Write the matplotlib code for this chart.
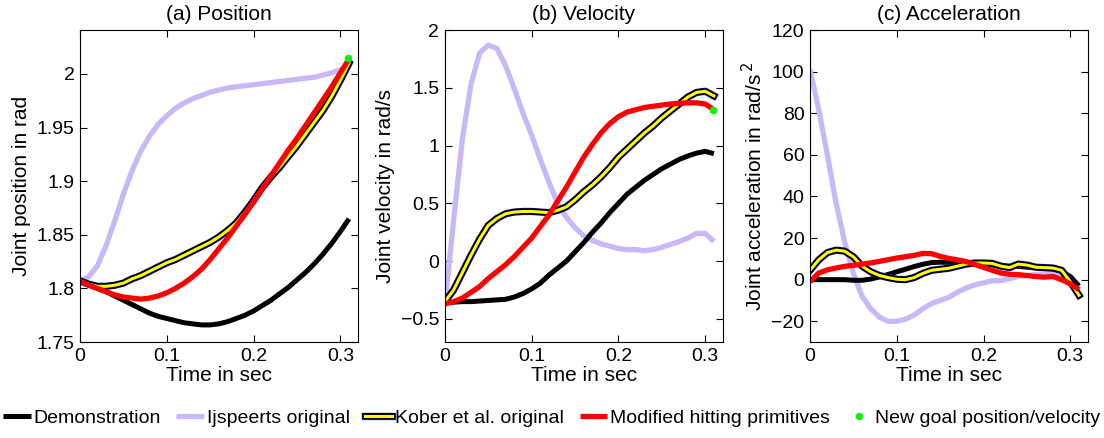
import matplotlib
matplotlib.use("Agg")
import matplotlib.pyplot as plt
import matplotlib.patheffects as pe
from matplotlib.ticker import FuncFormatter

plt.rcParams['font.family'] = ['Liberation Sans', 'DejaVu Sans']

# time samples (s)
t = [0.00, 0.01, 0.02, 0.03, 0.04, 0.05, 0.06, 0.07, 0.08, 0.09,
     0.10, 0.11, 0.12, 0.13, 0.14, 0.15, 0.16, 0.17, 0.18, 0.19,
     0.20, 0.21, 0.22, 0.23, 0.24, 0.25, 0.26, 0.27, 0.28, 0.29,
     0.30, 0.31]

# (a) joint position in rad
pos_demo = [1.808, 1.804, 1.800, 1.797, 1.793, 1.789, 1.785, 1.781, 1.777, 1.774,
            1.772, 1.770, 1.768, 1.767, 1.766, 1.766, 1.767, 1.769, 1.772, 1.775,
            1.779, 1.784, 1.789, 1.795, 1.801, 1.808, 1.815, 1.823, 1.832, 1.842,
            1.853, 1.865]
pos_ijs = [1.807, 1.811, 1.821, 1.840, 1.863, 1.888, 1.910, 1.928, 1.942, 1.953,
           1.961, 1.968, 1.973, 1.977, 1.980, 1.983, 1.985, 1.987, 1.988, 1.989,
           1.990, 1.991, 1.992, 1.993, 1.994, 1.995, 1.996, 1.997, 1.999, 2.001,
           2.004, 2.006]
pos_kober = [1.807, 1.804, 1.802, 1.802, 1.803, 1.805, 1.809, 1.812, 1.816, 1.820,
             1.824, 1.827, 1.831, 1.835, 1.839, 1.843, 1.848, 1.854, 1.861, 1.871,
             1.882, 1.894, 1.904, 1.913, 1.923, 1.933, 1.944, 1.955, 1.966, 1.979,
             1.994, 2.010]
pos_mod = [1.807, 1.803, 1.800, 1.797, 1.794, 1.792, 1.791, 1.790, 1.791, 1.793,
           1.796, 1.800, 1.805, 1.811, 1.818, 1.827, 1.837, 1.847, 1.858, 1.869,
           1.881, 1.893, 1.905, 1.917, 1.929, 1.940, 1.952, 1.964, 1.976, 1.988,
           2.001, 2.014]

# (b) joint velocity in rad/s
vel_demo = [-0.36, -0.355, -0.35, -0.35, -0.345, -0.34, -0.335, -0.33, -0.31, -0.28,
            -0.24, -0.19, -0.12, -0.06, 0.0, 0.08, 0.16, 0.25, 0.33, 0.42,
            0.50, 0.58, 0.64, 0.70, 0.75, 0.80, 0.84, 0.88, 0.91, 0.935,
            0.95, 0.93]
vel_ijs = [-0.37, 0.35, 1.05, 1.53, 1.80, 1.87, 1.84, 1.69, 1.49, 1.28,
           1.09, 0.88, 0.68, 0.50, 0.38, 0.29, 0.22, 0.18, 0.15, 0.13,
           0.11, 0.10, 0.10, 0.09, 0.10, 0.12, 0.145, 0.17, 0.20, 0.24,
           0.24, 0.17]
vel_kober = [-0.35, -0.25, -0.10, 0.05, 0.19, 0.31, 0.37, 0.41, 0.425, 0.43,
             0.43, 0.425, 0.42, 0.44, 0.47, 0.53, 0.60, 0.66, 0.73, 0.81,
             0.90, 0.97, 1.04, 1.11, 1.17, 1.24, 1.30, 1.36, 1.42, 1.46,
             1.47, 1.43]
vel_mod = [-0.37, -0.35, -0.32, -0.27, -0.22, -0.15, -0.09, -0.03, 0.04, 0.12,
           0.20, 0.30, 0.40, 0.52, 0.64, 0.77, 0.90, 1.01, 1.11, 1.19,
           1.25, 1.29, 1.31, 1.33, 1.34, 1.35, 1.36, 1.365, 1.37, 1.37,
           1.36, 1.31]

# (c) joint acceleration in rad/s^2
acc_demo = [0, 0, 0, 0, 0, -0.3, -0.3, 0.3, 1.3, 2.5,
            3.8, 5.0, 6.3, 7.4, 8.2, 8.4, 8.3, 8.2, 8.1, 7.8,
            7.5, 7.1, 6.7, 6.5, 6.4, 6.0, 5.7, 5.4, 5.2, 4.0,
            1.5, -3.0]
acc_ijs = [101, 82, 60, 37, 18, 3, -8, -14, -18, -20,
           -20, -19, -17, -14, -11.5, -10, -8.5, -6, -4, -2.5,
           -1.5, -0.5, -0.5, 0.5, 1.5, 2, 2.4, 2.8, 3, 2,
           -1, -7.5]
acc_kober = [4.5, 9.5, 13, 14.2, 13.7, 11, 6.5, 3.8, 2, 1,
             0.2, 0, 1, 3, 4.5, 5, 5.5, 6.5, 7.5, 8,
             8, 7.8, 6.5, 5.8, 7.5, 7, 6, 5.8, 5.6, 4.5,
             -1, -7.5]
acc_mod = [-1, 3.2, 4.7, 5.6, 6.4, 6.9, 7.5, 8, 8.8, 9.6,
           10.4, 11, 11.7, 12.6, 12.5, 11.2, 10.2, 9.5, 8.7, 7.3,
           5.9, 4.5, 3.2, 2.6, 2.4, 2, 1.5, 1.2, 1.5, 0,
           -2, -4.8]

# new goal (time, value)
goal_t = 0.309
goal_pos = 2.015
goal_vel = 1.31

titles = ['(a) Position', '(b) Velocity', '(c) Acceleration']
ylabels = ['Joint position in rad', 'Joint velocity in rad/s',
           'Joint acceleration in rad/s$^{\\,2}$']
ylims = [(1.75, 2.041), (-0.7, 2.0), (-30, 120)]
yticks = [[1.75, 1.8, 1.85, 1.9, 1.95, 2.0],
          [-0.5, 0, 0.5, 1, 1.5, 2],
          [-20, 0, 20, 40, 60, 80, 100, 120]]
xticks = [0, 0.1, 0.2, 0.3]

lavender = '#c9b8f8'
kober_fx = [pe.Stroke(linewidth=5.2, foreground='#1010c0'),
            pe.Stroke(linewidth=4.4, foreground='black'), pe.Normal()]

fmt = FuncFormatter(lambda v, p: ('%g' % v).replace('-', '\u2212'))

fig = plt.figure(figsize=(11.04, 4.38), dpi=100)
lefts = [0.0725, 0.403, 0.7337]
axes = [fig.add_axes([l, 0.219, 0.2515, 0.7125]) for l in lefts]

series = [(pos_demo, pos_ijs, pos_kober, pos_mod),
          (vel_demo, vel_ijs, vel_kober, vel_mod),
          (acc_demo, acc_ijs, acc_kober, acc_mod)]

handles = None
for i, ax in enumerate(axes):
    demo, ijs, kober, mod = series[i]
    h2, = ax.plot(t, ijs, color=lavender, lw=3.8, solid_capstyle='butt',
                  solid_joinstyle='round', label='Ijspeerts original')
    h1, = ax.plot(t, demo, color='black', lw=3.6, solid_capstyle='butt',
                  solid_joinstyle='round', label='Demonstration')
    h3, = ax.plot(t, kober, color='#ffff00', lw=2.2, path_effects=kober_fx,
                  solid_joinstyle='round', label='Kober et al. original')
    h4, = ax.plot(t, mod, color='red', lw=3.8, solid_capstyle='butt',
                  solid_joinstyle='round', label='Modified hitting primitives')
    if i == 0:
        h5, = ax.plot([goal_t], [goal_pos], 'o', color='#11ee11', ms=5.5,
                      mec='none', label='New goal position/velocity')
        handles = [h1, h2, h3, h4, h5]
    elif i == 1:
        ax.plot([goal_t], [goal_vel], 'o', color='#11ee11', ms=5.5, mec='none')

    ax.set_xlim(0, 0.32)
    ax.set_ylim(*ylims[i])
    ax.set_xticks(xticks)
    ax.set_yticks(yticks[i])
    ax.xaxis.set_major_formatter(fmt)
    ax.yaxis.set_major_formatter(fmt)
    ax.tick_params(direction='in', top=True, right=True, length=5,
                   labelsize=14, pad=4)
    ax.set_title(titles[i], fontsize=15, pad=7)
    ax.set_xlabel('Time in sec', fontsize=15, labelpad=1)
    ax.set_ylabel(ylabels[i], fontsize=15, labelpad=4)

fig.legend(handles=handles, loc='center', bbox_to_anchor=(0.5, 0.045),
           ncol=5, frameon=False, fontsize=14, handlelength=1.4,
           handletextpad=0.15, columnspacing=0.8, borderaxespad=0)

fig.savefig('out.png', dpi=100)
